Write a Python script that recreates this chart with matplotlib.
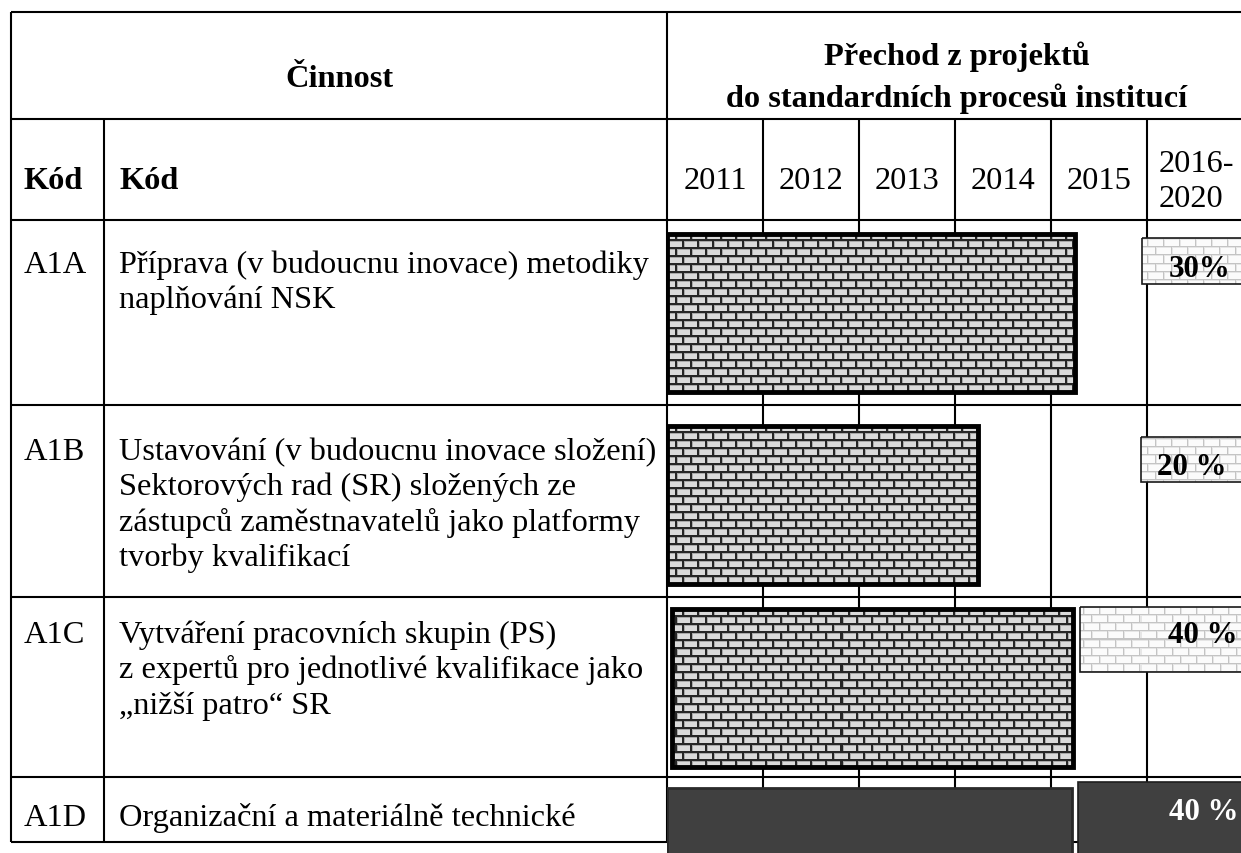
import matplotlib
matplotlib.use('Agg')
import matplotlib.pyplot as plt
import matplotlib.colors as mcolors
import numpy as np

plt.rcParams['font.family'] = ['Liberation Serif', 'DejaVu Serif']

###########################################
# Data
###########################################

codes = ['A1A', 'A1B', 'A1C', 'A1D']
activities = [
    ['Příprava (v budoucnu inovace) metodiky', 'naplňování NSK'],
    ['Ustavování (v budoucnu inovace složení)', 'Sektorových rad (SR) složených ze',
     'zástupců zaměstnavatelů jako platformy', 'tvorby kvalifikací'],
    ['Vytváření pracovních skupin (PS)', 'z expertů pro jednotlivé kvalifikace jako',
     '\u201enižší patro\u201c SR'],
    ['Organizační a materiálně technické'],
]
year_labels = ['2011', '2012', '2013', '2014', '2015', '2016-\n2020']

# project phase (in year-column units, 2011 = left edge of first column)
project_start = [2011.0, 2011.0, 2011.05, 2011.0]
project_end = [2015.25, 2014.24, 2015.23, 2015.22]
# transition into standard processes
transition_start = [2015.95, 2015.94, 2015.30, 2015.28]
transition_end = [2017.2, 2017.2, 2017.2, 2017.2]
transition_share = ['30%', '20 %', '40 %', '40 %']
row_style = ['brick', 'brick', 'brick', 'dark']

###########################################
# Layout (pixels)
###########################################

W, H = 1241, 854
left, top = 11, 13
code_div, act_right = 104, 667
col_w = 96
hdr1, hdr2 = 120, 221
row_lines = [221, 406, 598, 778, 843]
first_baseline = [273, 460, 643, 826]
line_step = 35.5

main_top = [235, 427, 610, 789]
main_bot = [393, 585, 768, 900]
small_top = [238.7, 437.7, 607.7, 783]
small_bot = [285.3, 483.3, 673.3, 900]
label_right = [2016.865, 2016.833, 2016.94, 2016.95]
label_base = [277, 475, 643, 820]

FS = 23.3


def brick_texture(h, w, bw, bh, mortar, shade, brick, mw, mh):
    img = np.empty((h, w, 3))
    yy, xx = np.mgrid[0:h, 0:w]
    row = yy // bh
    xs = (xx + (row % 2) * (bw // 2)) % bw
    ys = yy % bh
    img[:] = mcolors.to_rgb(brick)
    img[(xs < mw + 1) | (ys < mh + 1)] = mcolors.to_rgb(shade)
    img[(xs < mw) | (ys < mh)] = mcolors.to_rgb(mortar)
    return img


fig = plt.figure(figsize=(W / 100, H / 100), dpi=100)
fig.patch.set_facecolor('white')

# table axes in pixel coordinates
ax = fig.add_axes([0, 0, 1, 1])
ax.set_xlim(0, W)
ax.set_ylim(H, 0)
ax.axis('off')

lw = 1.5
ax.hlines([top, hdr1, hdr2] + row_lines[1:], left, W, color='black', lw=lw)
ax.vlines(left, top, row_lines[-1], color='black', lw=lw)
ax.vlines(code_div, hdr1, row_lines[-1], color='black', lw=lw)
ax.vlines(act_right, top, row_lines[-1], color='black', lw=lw)

# header texts
ax.text((left + act_right) / 2, 87, 'Činnost', ha='center', va='baseline',
        fontsize=FS, fontweight='bold')
ax.text(957, 65, 'Přechod z projektů', ha='center', va='baseline',
        fontsize=FS, fontweight='bold')
ax.text(957, 107, 'do standardních procesů institucí', ha='center', va='baseline',
        fontsize=FS, fontweight='bold')
ax.text(24, 189, 'Kód', ha='left', va='baseline', fontsize=FS, fontweight='bold')
ax.text(119, 189, 'Kód', ha='left', va='baseline', fontsize=FS, fontweight='bold')

for i, code in enumerate(codes):
    ax.text(24, first_baseline[i], code, ha='left', va='baseline', fontsize=FS)
    for k, line in enumerate(activities[i]):
        ax.text(119, first_baseline[i] + k * line_step, line, ha='left',
                va='baseline', fontsize=FS)

# gantt axes over the year columns
gx = fig.add_axes([act_right / W, 0, (W - act_right) / W, 1])
x0 = 2011
x1 = 2011 + (W - act_right) / col_w
gx.set_xlim(x0, x1)
gx.set_ylim(H, 0)
gx.axis('off')

gx.vlines(np.arange(2012, 2018), hdr1, row_lines[-1], color='black', lw=lw, zorder=1)
for i, lab in enumerate(year_labels):
    if '\n' in lab:
        a, b = lab.split('\n')
        gx.text(2011 + i + 0.12, 172, a, ha='left', va='baseline', fontsize=FS)
        gx.text(2011 + i + 0.12, 207, b, ha='left', va='baseline', fontsize=FS)
    else:
        gx.text(2011 + i + 0.5, 189, lab, ha='center', va='baseline', fontsize=FS)

tex_main = brick_texture(H, W - act_right, 15, 8, '#262626', '#a8a8a8', '#dadada', 2, 2)
tex_light = brick_texture(H, W - act_right, 16, 8, '#c4c4c4', '#e6e6e6', '#fbfbfb', 1, 1)

ps = np.array(project_start)
pe = np.array(project_end)
ts = np.array(transition_start)
te = np.array(transition_end)
mt, mb = np.array(main_top), np.array(main_bot)
st, sb = np.array(small_top), np.array(small_bot)

for i in range(len(codes)):
    if row_style[i] == 'brick':
        b = gx.barh((mt[i] + mb[i]) / 2, pe[i] - ps[i], left=ps[i], height=mb[i] - mt[i],
                    color='#d9d9d9', edgecolor='none', zorder=2)
        im = gx.imshow(tex_main, extent=(x0, x1, H, 0), interpolation='nearest',
                       aspect='auto', zorder=3)
        im.set_clip_path(b.patches[0])
        gx.barh((mt[i] + mb[i]) / 2, pe[i] - ps[i], left=ps[i], height=mb[i] - mt[i],
                fill=False, edgecolor='black', lw=3.5, zorder=4)

        b = gx.barh((st[i] + sb[i]) / 2, te[i] - ts[i], left=ts[i], height=sb[i] - st[i],
                    color='white', edgecolor='none', zorder=2)
        im = gx.imshow(tex_light, extent=(x0, x1, H, 0), interpolation='nearest',
                       aspect='auto', zorder=3)
        im.set_clip_path(b.patches[0])
        gx.barh((st[i] + sb[i]) / 2, te[i] - ts[i], left=ts[i], height=sb[i] - st[i],
                fill=False, edgecolor='#1a1a1a', lw=1.2, zorder=4)
        gx.text(label_right[i], label_base[i], transition_share[i], ha='right',
                va='baseline', fontsize=FS - 1, fontweight='bold', color='black', zorder=5)
    else:
        gx.barh((mt[i] + mb[i]) / 2, pe[i] - ps[i], left=ps[i], height=mb[i] - mt[i],
                color='#404040', edgecolor='#2a2a2a', lw=2, zorder=4)
        gx.barh((st[i] + sb[i]) / 2, te[i] - ts[i], left=ts[i], height=sb[i] - st[i],
                color='#404040', edgecolor='#1e1e1e', lw=1.2, zorder=4)
        gx.text(label_right[i], label_base[i], transition_share[i], ha='right',
                va='baseline', fontsize=FS - 1, fontweight='bold', color='white', zorder=5)

gx.set_xlim(x0, x1)
gx.set_ylim(H, 0)

fig.savefig('out.png', dpi=100, facecolor='white')
